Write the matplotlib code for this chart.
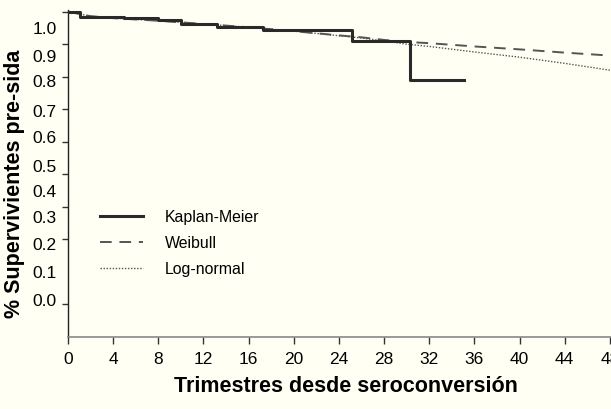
import matplotlib
matplotlib.use("Agg")
import matplotlib.pyplot as plt

plt.rcParams['font.family'] = ['Liberation Sans', 'DejaVu Sans']

# Kaplan-Meier step estimate (quarter, survival)
km_t = [0, 1.1, 5, 8, 10, 13.2, 17.3, 25.2, 30.3, 35.1]
km_s = [1.0, 0.985, 0.980, 0.974, 0.963, 0.952, 0.942, 0.909, 0.790, 0.790]

# Parametric fits
fit_t = [0, 2, 4, 8, 12, 16, 20, 24, 26, 28, 30, 32, 36, 40, 44, 48]
weibull = [1.0, 0.986, 0.980, 0.972, 0.962, 0.952, 0.940, 0.927, 0.921,
           0.913, 0.907, 0.903, 0.893, 0.884, 0.874, 0.865]
lognormal = [1.0, 0.986, 0.980, 0.972, 0.962, 0.952, 0.940, 0.926, 0.919,
             0.910, 0.900, 0.893, 0.876, 0.860, 0.841, 0.820]

x_ticks = [0, 4, 8, 12, 16, 20, 24, 28, 32, 36, 40, 44, 48]
y_labels = ['0.0', '0.1', '0.2', '0.3', '0.4', '0.5', '0.6', '0.7', '0.8', '0.9', '1.0']
y_label_pos = [0.114, 0.200, 0.286, 0.369, 0.449, 0.525, 0.614, 0.694, 0.786, 0.863, 0.949]
y_minor = [0.1, 0.2, 0.3, 0.4, 0.5, 0.6, 0.7, 0.8, 0.9, 1.0]

bg = '#fffff4'
fig = plt.figure(figsize=(6.11, 4.09), dpi=100, facecolor=bg)
ax = fig.add_axes([68/611, 1-337/409, 543/611, 327/409], facecolor=bg)

ax.step(km_t, km_s, where='post', color='#2a2a2a', lw=2.2, label='Kaplan-Meier', zorder=3)
ax.plot(fit_t, weibull, color='#555555', lw=1.4, ls=(0, (6, 4)), label='Weibull', zorder=2)
ax.plot(fit_t, lognormal, color='#555555', lw=1.0, ls=(0, (1, 1.2)), label='Log-normal', zorder=2)

ax.set_xlim(0, 48.1)
ax.set_ylim(0, 1.005)

for s in ['top', 'right']:
    ax.spines[s].set_visible(False)
ax.spines['left'].set_color('#222222')
ax.spines['left'].set_linewidth(1.0)
ax.spines['bottom'].set_color('#888888')
ax.spines['bottom'].set_linewidth(1.2)

ax.set_xticks(x_ticks)
ax.set_xticklabels([str(v) for v in x_ticks], fontsize=12.5)
ax.tick_params(axis='x', direction='out', length=5, width=1, color='#333333', pad=6)

ax.set_yticks(y_label_pos)
ax.set_yticklabels(y_labels, fontsize=12.5)
ax.tick_params(axis='y', which='major', length=0, pad=8)
ax.set_yticks(y_minor, minor=True)
ax.tick_params(axis='y', which='minor', direction='out', length=4, width=1, color='#333333')

fig.text(15/611, 1-184/409, '% Supervivientes pre-sida', rotation=90,
         ha='center', va='center', fontsize=15.5, fontweight='bold')
fig.text(346/611, 1-387/409, 'Trimestres desde seroconversión',
         ha='center', va='center', fontsize=15.5, fontweight='bold')

leg = ax.legend(loc='upper left', bbox_to_anchor=(100/611, 1-210/409),
                bbox_transform=fig.transFigure, frameon=False, fontsize=11.4,
                handlelength=2.7, handletextpad=1.4, labelspacing=0.68,
                borderpad=0, borderaxespad=0)

fig.savefig('out.png', dpi=100, facecolor=bg)
